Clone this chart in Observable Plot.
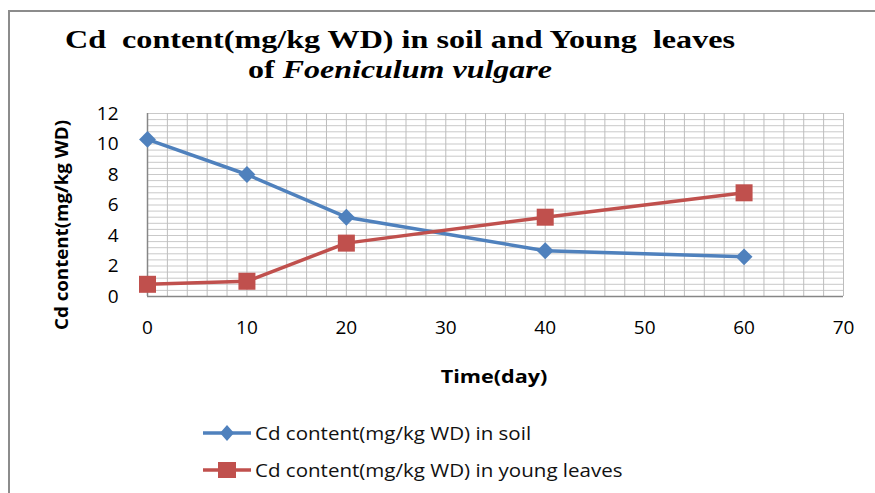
<!DOCTYPE html>
<html>
<head>
<meta charset="utf-8">
<script src="https://cdn.jsdelivr.net/npm/d3@7"></script>
<script src="https://cdn.jsdelivr.net/npm/@observablehq/plot@0.6"></script>
<style>
  html, body { margin: 0; padding: 0; background: #fff; }
  #wrap { position: relative; width: 875px; height: 493px; overflow: hidden; background: #fff; font-family: "Open Sans", "Noto Sans", sans-serif; }
  .abs { position: absolute; }
  #frame { left: 8px; top: 10px; width: 900px; height: 600px; border: 2px solid #8c8c8c; }
  #ytitle { left: 61px; top: 225px; transform: translate(-50%, -50%) rotate(-90deg) scaleX(1.1); font-weight: bold; font-size: 17px; white-space: nowrap; color: #000; }
  #xtitle { left: 494px; top: 376px; transform: translate(-50%, -50%) scaleX(1.2); font-weight: bold; font-size: 18px; white-space: nowrap; color: #000; }
  .leg { left: 203px; height: 24px; display: flex; align-items: center; font-size: 18px; color: #111; white-space: nowrap; }
  .leg svg { margin-right: 4px; }
  .leg span { display: inline-block; transform: scaleX(1.14); transform-origin: left center; }
</style>
</head>
<body>
<div id="wrap">
  <div id="frame" class="abs"></div>
  <svg id="title" class="abs" style="left:0;top:0" width="875" height="100">
    <text x="65" y="48" textLength="670" lengthAdjust="spacingAndGlyphs" font-family="'Liberation Serif', 'Times New Roman', serif" font-weight="bold" font-size="26" fill="#000" style="white-space:pre">Cd  content(mg/kg WD) in soil and Young  leaves</text>
    <text x="248" y="78" textLength="304" lengthAdjust="spacingAndGlyphs" font-family="'Liberation Serif', 'Times New Roman', serif" font-weight="bold" font-size="26" fill="#000" style="white-space:pre">of <tspan font-style="italic">Foeniculum vulgare</tspan></text>
  </svg>
  <div id="chart" class="abs" style="left:0;top:0"></div>
  <div id="ytitle" class="abs"></div>
  <div id="xtitle" class="abs"></div>
  <div id="legend"></div>
</div>
<script>
// ---- data ----
const days = [0, 10, 20, 40, 60];
const soilValues = [10.3, 8.0, 5.2, 3.0, 2.6];
const leafValues = [0.8, 1.0, 3.5, 5.2, 6.8];
const seriesNames = ["Cd content(mg/kg WD) in soil", "Cd content(mg/kg WD) in young leaves"];
const seriesColors = ["#4f81bd", "#c0504d"];
const xTicks = [0, 10, 20, 30, 40, 50, 60, 70];
const yTicks = [0, 2, 4, 6, 8, 10, 12];
const xTitle = "Time(day)";
const yTitle = "Cd content(mg/kg WD)";

const soil = days.map((d, i) => ({day: d, value: soilValues[i], series: seriesNames[0]}));
const leaves = days.map((d, i) => ({day: d, value: leafValues[i], series: seriesNames[1]}));
const xGrid = d3.range(0, 70.001, 2);
const yGrid = d3.range(0, 12.001, 0.4);

const chart = Plot.plot({
  width: 875,
  height: 493,
  marginLeft: 147,
  marginRight: 32,
  marginTop: 113,
  marginBottom: 197,
  style: {fontFamily: "'Open Sans', 'Noto Sans', sans-serif", fontSize: "19px", color: "#000", background: "transparent"},
  x: {domain: [0, 70]},
  y: {domain: [0, 12]},
  marks: [
    Plot.ruleY(yGrid, {stroke: "#c9c9c9", strokeWidth: 1}),
    Plot.ruleX(xGrid, {stroke: "#bdbdbd", strokeWidth: 1}),
    Plot.ruleX([0], {stroke: "#868686", strokeWidth: 1.5}),
    Plot.ruleY([0], {stroke: "#868686", strokeWidth: 1.5}),
    Plot.axisX({ticks: xTicks, tickSize: 0, tickPadding: 24, label: null, fontSize: 19}),
    Plot.axisY({ticks: yTicks, tickSize: 0, tickPadding: 29, label: null, fontSize: 19}),
    Plot.line(soil, {x: "day", y: "value", stroke: seriesColors[0], strokeWidth: 3.5}),
    Plot.line(leaves, {x: "day", y: "value", stroke: seriesColors[1], strokeWidth: 3.5}),
    Plot.dot(soil, {x: "day", y: "value", symbol: "diamond2", r: 7.6, fill: seriesColors[0], stroke: "none"}),
    Plot.dot(leaves, {x: "day", y: "value", symbol: "square", r: 9.6, fill: seriesColors[1], stroke: "none"})
  ]
});
document.getElementById("chart").appendChild(chart);
document.getElementById("xtitle").textContent = xTitle;
document.getElementById("ytitle").textContent = yTitle;

// ---- legend ----
const legend = document.getElementById("legend");
const legTops = [421, 458];
seriesNames.forEach((name, i) => {
  const row = document.createElement("div");
  row.className = "abs leg";
  row.style.top = legTops[i] + "px";
  const ns = "http://www.w3.org/2000/svg";
  const s = document.createElementNS(ns, "svg");
  s.setAttribute("width", 48); s.setAttribute("height", 24);
  const ln = document.createElementNS(ns, "line");
  ln.setAttribute("x1", 0); ln.setAttribute("x2", 48); ln.setAttribute("y1", 12); ln.setAttribute("y2", 12);
  ln.setAttribute("stroke", seriesColors[i]); ln.setAttribute("stroke-width", 3.5);
  s.appendChild(ln);
  if (i === 0) {
    const p = document.createElementNS(ns, "path");
    p.setAttribute("d", "M24,4L31,12L24,20L17,12Z");
    p.setAttribute("fill", seriesColors[i]);
    s.appendChild(p);
  } else {
    const r = document.createElementNS(ns, "rect");
    r.setAttribute("x", 15); r.setAttribute("y", 4); r.setAttribute("width", 18); r.setAttribute("height", 16);
    r.setAttribute("fill", seriesColors[i]);
    s.appendChild(r);
  }
  row.appendChild(s);
  const t = document.createElement("span");
  t.textContent = name;
  row.appendChild(t);
  legend.appendChild(row);
});
</script>
</body>
</html>
